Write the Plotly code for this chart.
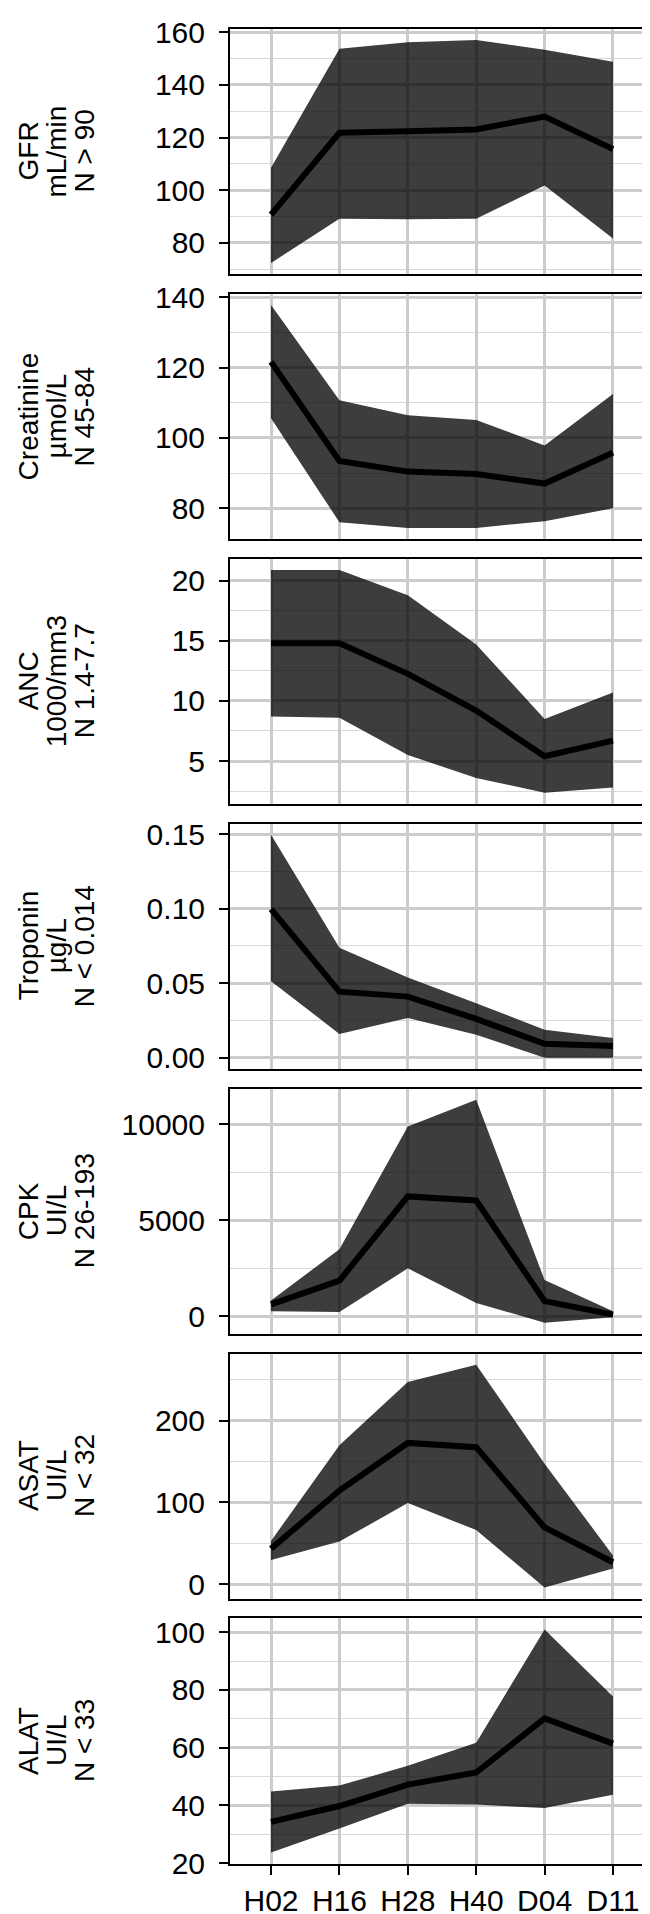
import plotly.graph_objects as go

times = ["H02", "H16", "H28", "H40", "D04", "D11"]

gfr_mean = [90.7, 121.8, 122.4, 123.1, 128.0, 115.6]
gfr_low = [72.3, 89.1, 88.9, 89.1, 101.8, 81.6]
gfr_high = [108.5, 153.8, 156.3, 157.1, 153.4, 148.8]

creat_mean = [121.6, 93.4, 90.4, 89.7, 87.0, 95.8]
creat_low = [105.6, 76.0, 74.4, 74.4, 76.3, 80.0]
creat_high = [137.8, 110.7, 106.4, 105.1, 97.8, 112.5]

anc_mean = [14.8, 14.8, 12.25, 9.2, 5.4, 6.7]
anc_low = [8.7, 8.6, 5.5, 3.6, 2.36, 2.8]
anc_high = [20.9, 20.9, 18.8, 14.7, 8.5, 10.7]

trop_mean = [0.0997, 0.0443, 0.041, 0.0261, 0.0093, 0.0078]
trop_low = [0.0514, 0.016, 0.0266, 0.0155, 0.0, 0.0]
trop_high = [0.1496, 0.0738, 0.0538, 0.0366, 0.0188, 0.0133]

cpk_mean = [620, 1860, 6250, 6040, 790, 90]
cpk_low = [260, 220, 2500, 700, -330, -50]
cpk_high = [830, 3490, 9900, 11290, 1890, 260]

asat_mean = [43.4, 114.5, 172.7, 167.5, 69.5, 26.9]
asat_low = [29.7, 52.2, 99.2, 66.3, -4.0, 19.3]
asat_high = [53.0, 169.9, 247.0, 268.3, 147.4, 35.3]

alat_mean = [34.3, 39.8, 47.2, 51.4, 70.1, 61.4]
alat_low = [23.7, 32.0, 40.6, 40.3, 39.1, 43.7]
alat_high = [44.8, 46.9, 53.7, 61.7, 100.9, 77.7]

titles = [
    ["GFR", "mL/min", "N > 90"],
    ["Creatinine", "µmol/L", "N 45-84"],
    ["ANC", "1000/mm3", "N 1.4-7.7"],
    ["Troponin", "µg/L", "N < 0.014"],
    ["CPK", "UI/L", "N 26-193"],
    ["ASAT", "UI/L", "N < 32"],
    ["ALAT", "UI/L", "N < 33"],
]
series = [
    (gfr_mean, gfr_low, gfr_high, 20, "d"),
    (creat_mean, creat_low, creat_high, 20, "d"),
    (anc_mean, anc_low, anc_high, 5, "d"),
    (trop_mean, trop_low, trop_high, 0.05, ".2f"),
    (cpk_mean, cpk_low, cpk_high, 5000, "d"),
    (asat_mean, asat_low, asat_high, 100, "d"),
    (alat_mean, alat_low, alat_high, 20, "d"),
]

W, H = 650, 1914
FONT = "Liberation Sans, Arial, sans-serif"
fig = go.Figure()
layout = {}
annotations = []

for i, ((mean, low, high, dtick, fmt), title) in enumerate(zip(series, titles)):
    n = "" if i == 0 else str(i + 1)
    xa, ya = "x" + n, "y" + n
    fig.add_trace(go.Scatter(x=times, y=low, mode="lines", line=dict(width=0),
                             xaxis=xa, yaxis=ya, showlegend=False, hoverinfo="skip"))
    fig.add_trace(go.Scatter(x=times, y=high, mode="lines", line=dict(width=0),
                             fill="tonexty", fillcolor="rgba(0,0,0,0.76)",
                             xaxis=xa, yaxis=ya, showlegend=False, hoverinfo="skip"))
    fig.add_trace(go.Scatter(x=times, y=mean, mode="lines",
                             line=dict(color="black", width=6),
                             xaxis=xa, yaxis=ya, showlegend=False))

    top = 8 + 269 * i
    bottom = top + 249
    lo, hi = min(low), max(high)
    pad = 0.05 * (hi - lo)
    last = i == len(series) - 1

    layout["xaxis" + n] = dict(
        domain=[222 / W, 646 / W], anchor=ya, type="category",
        categoryorder="array", categoryarray=times, range=[-0.6, 5.6],
        showgrid=True, gridcolor="#cccccc", gridwidth=2.5,
        showline=True, mirror=True, linecolor="black", linewidth=2,
        showticklabels=last, ticks="outside" if last else "",
        ticklen=9, tickwidth=2, tickcolor="black", ticklabelstandoff=0,
        tickfont=dict(size=30, color="black", family=FONT),
        zeroline=False,
    )
    layout["yaxis" + n] = dict(
        domain=[1 - bottom / H, 1 - top / H], anchor=xa,
        range=[lo - pad, hi + pad], tick0=0, dtick=dtick, tickformat=fmt,
        showgrid=True, gridcolor="#cccccc", gridwidth=2.5,
        minor=dict(tick0=0, dtick=dtick / 2, showgrid=True,
                   gridcolor="#d9d9d9", gridwidth=1.2),
        showline=True, mirror=True, linecolor="black", linewidth=2,
        ticks="outside", ticklen=9, tickwidth=2, tickcolor="black",
        ticklabelstandoff=8,
        tickfont=dict(size=30, color="black", family=FONT),
        zeroline=False,
    )
    yc = 1 - (top + bottom) / 2 / H
    for j, line in enumerate(title):
        annotations.append(dict(
            text=line, xref="paper", yref="paper", x=[20, 48, 76][j] / W, y=yc,
            xanchor="center", yanchor="middle", textangle=-90, showarrow=False,
            font=dict(size=28, color="black", family=FONT),
        ))

fig.update_layout(
    width=W, height=H,
    margin=dict(l=0, r=0, t=0, b=0),
    plot_bgcolor="white", paper_bgcolor="white",
    annotations=annotations,
    **layout,
)

fig.write_html("out.html")
